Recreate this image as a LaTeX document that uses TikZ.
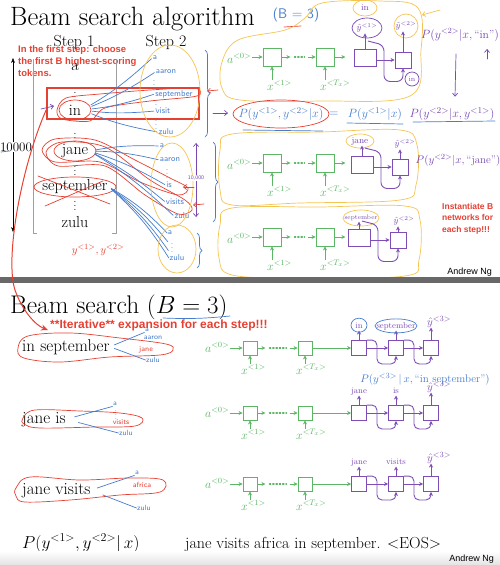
\documentclass[tikz,border=0pt]{standalone}
\usepackage{fontspec}
\newfontfamily\notefont{Liberation Sans}
\usetikzlibrary{calc,arrows.meta,decorations.pathreplacing}
\definecolor{penblue}{RGB}{70,125,205}
\definecolor{penred}{RGB}{230,64,50}
\definecolor{penorange}{RGB}{244,196,82}
\definecolor{penpurple}{RGB}{120,72,180}
\definecolor{rnngreen}{RGB}{92,182,102}
\definecolor{rnnpurple}{RGB}{126,78,182}
\definecolor{slidebar}{RGB}{104,104,104}

\begin{document}
\begin{tikzpicture}[x=1pt, y=-1pt,
  slidetitle/.style={font=\fontsize{26.5}{30}\selectfont, anchor=base west, inner sep=0pt},
  word/.style={font=\fontsize{16}{18}\selectfont, inner sep=1pt},
  vdot/.style={font=\fontsize{10}{10}\selectfont, inner sep=0pt},
  note/.style={font=\notefont\bfseries\fontsize{9.5}{12}\selectfont, text=penred, align=left, inner sep=0pt},
  hand/.style={font=\sffamily\fontsize{8.5}{9}\selectfont, inner sep=0.5pt},
  hlabel/.style={font=\fontsize{9}{10}\selectfont, text=penpurple, inner sep=0.5pt},
  glabel/.style={font=\fontsize{12}{14}\selectfont, text=rnngreen, inner sep=0pt, anchor=base west},
  plabel/.style={font=\fontsize{8.5}{10}\selectfont, text=rnnpurple, inner sep=0pt, anchor=base},
  gbox/.style={draw=rnngreen, line width=0.9pt, minimum size=#1, inner sep=0pt},
  pbox/.style={draw=rnnpurple, line width=0.9pt, minimum size=#1, inner sep=0pt},
  garrow/.style={rnngreen, line width=0.9pt, -{Stealth[length=4pt,width=4pt]}},
  parrow/.style={rnnpurple, line width=0.9pt, -{Stealth[length=4pt,width=4pt]}},
  pen/.style={line width=0.7pt, line cap=round, line join=round},
  penarrow/.style={pen, -{Straight Barb[length=3pt,width=5pt]}},
  handbrace/.style={pen, decorate, decoration={brace, amplitude=5pt}},
]
\useasboundingbox (0,0) rectangle (500,565);

\node[slidetitle] (title1) at (10,25) {Beam search algorithm};
\node[hand, text=penblue, font=\sffamily\fontsize{14}{16}\selectfont] (bnote) at (296,15) {(B = 3)};
\draw[pen, penred] (284,27) -- (301,26);

\node[word] (step1) at (74,42) {Step 1};
\node[word] (step2) at (166,42) {Step 2};
\node[note, anchor=north west] (firstnote) at (18,45) {In the first step: choose\\the first B highest-scoring\\tokens.};

\draw[gray!75, line width=0.8pt] (37,233) -| (33,59);
\draw[gray!75, line width=0.8pt] (112,233) -| (116,59);
\foreach \n/\ty/\t in {wa/67/a, win/110/in, wjane/151/jane, wsep/187/september, wzulu/222/zulu}
  \node[word] (\n) at (75,\ty) {\t};
\foreach \ty in {90,135,168,203}
  \node[vdot] (vd\ty) at (75,\ty) {$\vdots$};

\draw[{Stealth[length=5pt]}-{Stealth[length=5pt]}] (13,58) -- (13,232);
\node[font=\fontsize{13}{14}\selectfont, fill=white, inner sep=0.5pt] (vocab) at (16,147) {10000};
\draw[pen, penblue] (1,152) -- (9,151);

\node[draw=penred, line width=1.3pt, minimum width=152pt, minimum height=31pt, inner sep=0pt] (inbox) at (123,103.5) {};
\draw[pen, penred] (win.center) ellipse [x radius=16pt, y radius=10pt];
\draw[pen, penred] (wjane.center) ellipse [x radius=21pt, y radius=10pt];
\draw[pen, penred] (wsep.center) ellipse [x radius=41pt, y radius=10pt];
\draw[pen, penred] (38,176) -- (110,204);
\draw[pen, penred] (45,206) -- (103,181);
\draw[pen, penred] plot[smooth cycle] coordinates {(57,110) (66,98) (100,94) (150,90) (195,88) (197,96) (150,101) (105,108) (90,121) (62,119)};
\draw[pen, penred] plot[smooth cycle] coordinates {(42,150) (55,139) (95,140) (135,160) (170,178) (188,188) (178,195) (140,182) (100,162) (55,162)};
\draw[pen, penred] plot[smooth cycle] coordinates {(46,152) (62,142) (105,147) (150,180) (185,200) (192,210) (178,214) (145,195) (105,166) (58,166)};
\draw[penarrow, penpurple] (41,109) -- (54,106);
\node[text=penred, font=\fontsize{11}{12}\selectfont] (ypair) at (98,250) {$y^{<1>}, y^{<2>}$};

\foreach \n/\px/\py/\t in {sa/155/58/a, sb/166/72/aaron, sc/174/94/september, sd/163/111/visit, se/166/132/zulu,
  ja/162/146/a, jb/170/160/aaron, jc/169/185/is, jd/175/202/visits, je/182/216/zulu,
  ka/170/233/a, ke/177/258/zulu}
  \node[hand, text=penblue] (\n) at (\px,\py) {\t};
\foreach \n/\px/\py in {sv1/154/82, sv2/156/102, sv3/156/122, jv1/167/171, kv1/172/245}
  \node[hand, text=penblue] (\n) at (\px,\py) {$\vdots$};
\foreach \n in {sa,sb,sc,sd,se}
  \draw[pen, penblue, shorten <=10pt, shorten >=1pt] (win.east) to[bend right=6] (\n.west);
\foreach \n in {ja,jb,jc,jd,je}
  \draw[pen, penblue, shorten <=6pt, shorten >=1pt] (wjane.east) to[bend left=6] (\n.west);
\foreach \f in {0,0.35,0.7,1}
  \draw[pen, penblue, shorten <=3pt] (wsep.east) to[bend left=8] ($(ka.west)!\f!(ke.west)$);

\draw[pen, penorange] (170,91) ellipse [x radius=30pt, y radius=46pt];
\draw[pen, penorange] (172,185) ellipse [x radius=21pt, y radius=42pt];
\draw[pen, penorange] (177,249) ellipse [x radius=19pt, y radius=24pt];
\draw[handbrace, penblue] (205,50) -- (205,137);
\draw[handbrace, penblue] (213,142) -- (213,222);
\draw[handbrace, penblue] (197,233) -- (197,268);
\draw[pen, penpurple, {Straight Barb[length=3pt,width=5pt]}-{Straight Barb[length=3pt,width=5pt]}] (196,143) -- (196,217);
\node[font=\sffamily\fontsize{5.5}{6}\selectfont, text=penpurple, fill=white, inner sep=0.3pt] (tenk) at (196,178) {10,000};
\draw[penarrow, penred] (218,90) -- (207,91);
\draw[penarrow, penred] (194,187) -- (183,187);
\draw[penarrow, penred] (204,204) -- (193,205);

\draw[pen, penorange] plot[smooth cycle, tension=0.6] coordinates {(222,62) (238,40) (285,30) (305,18) (322,3) (380,1) (418,8) (421,50) (410,96) (320,101) (240,100) (222,88)};
\draw[pen, penorange] plot[smooth cycle, tension=0.6] coordinates {(220,150) (232,134) (320,132) (400,130) (417,145) (416,185) (400,200) (300,203) (232,205) (220,190)};
\draw[pen, penorange] plot[smooth cycle, tension=0.6] coordinates {(220,225) (232,208) (320,207) (405,206) (420,220) (419,260) (405,276) (300,278) (232,275) (219,258)};
\draw[penarrow, penorange] (440,10) -- (422,15);

\foreach \r/\Y in {1/57,2/163,3/237} {
  \node[glabel] (ta\r) at (227,\Y+6) {$a^{<0>}$};
  \node[gbox=18pt] (tga\r) at (272,\Y) {};
  \node[gbox=18pt] (tgb\r) at (325,\Y) {};
  \node[glabel] (txa\r) at (267,\Y+33) {$x^{<1>}$};
  \node[glabel] (txb\r) at (320,\Y+33) {$x^{<T_x>}$};
  \draw[garrow] (ta\r.east |- tga\r.west) -- (tga\r.west);
  \draw[garrow] (tga\r.south |- txa\r.north) -- (tga\r.south);
  \draw[garrow] (tgb\r.south |- txb\r.north) -- (tgb\r.south);
  \draw[garrow] (tga\r.east) -- ++(9,0);
  \draw[rnngreen, line width=1.3pt, dotted, line cap=round] ($(tga\r.east)+(13,0)$) -- ($(tgb\r.west)+(-11,0)$);
  \draw[garrow] ($(tgb\r.west)+(-8,0)$) -- (tgb\r.west);
  \draw[garrow] (tgb\r.east) -- ++(11,0);
}

\node[hlabel] (tin) at (365,8) {in};
\draw[pen, penorange] (tin.center) ellipse [x radius=12pt, y radius=8pt];
\node[hlabel] (tla1) at (367,28) {$\hat{y}^{<1>}$};
\draw[pen, penpurple] (tla1.center) ellipse [x radius=15pt, y radius=10pt];
\node[hlabel] (tlb1) at (406,26) {$\hat{y}^{<2>}$};
\draw[pen, penorange] (tlb1.center) circle [radius=12pt];
\node[hlabel] (tla2) at (360,141) {jane};
\draw[pen, penorange] (tla2.center) ellipse [x radius=14pt, y radius=7pt];
\node[hlabel] (tlb2) at (405,144) {$\hat{y}^{<2>}$};
\node[hlabel, font=\fontsize{6.5}{7}\selectfont] (tla3) at (361,218) {september};
\draw[pen, penorange] (tla3.center) ellipse [x radius=18pt, y radius=8pt];
\node[hlabel] (tlb3) at (404,221) {$\hat{y}^{<2>}$};
\node[hlabel, font=\fontsize{7}{8}\selectfont] (tinb) at (412,79) {in};
\draw[pen, penpurple] (tinb.center) circle [radius=7pt];

\foreach \r/\Y/\Pa/\Pb in {1/58/365/403, 2/165/362/400, 3/238/359/398} {
  \node[pbox=17pt, minimum width=22pt] (tpa\r) at (\Pa,\Y) {};
  \node[pbox=16pt] (tpb\r) at (\Pb,\Y+2) {};
  \draw[parrow] (tpa\r.east |- tpb\r.west) -- (tpb\r.west);
  \draw[parrow] (tpa\r.north) -- (tpa\r.north |- tla\r.south);
  \draw[parrow] (tpb\r.north) -- (tpb\r.north |- tlb\r.south);
  \draw[parrow, rounded corners=6pt] ($(tpa\r.north)+(3,-8)$) -- ++(16,4) |- ($(tpb\r.south)+(0,13)$) -- (tpb\r.south);
}

\node[hlabel, font=\fontsize{11.5}{13}\selectfont] (pin) at (460,35) {$P(y^{<2>}|x,\mbox{``in''})$};
\node[hlabel, font=\fontsize{11}{13}\selectfont] (pjane) at (458,160) {$P(y^{<2>}|x,\mbox{``jane''})$};
\node[hlabel, text=penblue, font=\fontsize{13}{15}\selectfont] (eqa) at (281,114) {$P(y^{<1>},y^{<2>}|x)$};
\node[hlabel, text=penblue, font=\fontsize{13}{15}\selectfont] (eqeq) at (334,114) {$=$};
\node[hlabel, text=penblue, font=\fontsize{13}{15}\selectfont] (eqb) at (375,114) {$P(y^{<1>}|x)$};
\node[hlabel, font=\fontsize{12.5}{15}\selectfont] (eqc) at (452,114) {$P(y^{<2>}|x,y^{<1>})$};
\draw[pen, penred] (eqa.center) ellipse [x radius=48pt, y radius=14pt];
\draw[pen, penblue] (243,130) -- (323,131);
\draw[pen, penblue] (347,123) -- (403,124);
\draw[pen, penblue] (413,122) -- (495,121);
\draw[penarrow, penpurple] (213,113) -- (228,113);
\draw[penarrow, penpurple] ($(pin.south)+(-4,12)$) -- ($(eqc.north)+(3,-10)$);
\draw[penarrow, penpurple] ($(pin.south)+(27,17)$) -- ++(0,-10);

\node[note, font=\notefont\bfseries\fontsize{8.5}{11.5}\selectfont, anchor=north west] (instnote) at (442,203) {Instantiate B\\networks for\\each step!!!};
\node[font=\notefont\fontsize{9}{10}\selectfont, anchor=base east, inner sep=0pt] (ng1) at (492,274) {Andrew Ng};

\fill[slidebar] (0,277) rectangle (500,283);

\node[slidetitle, font=\fontsize{25.5}{30}\selectfont] (title2) at (10,313) {Beam search $(B=3)$};
\draw[pen, penblue] (163,318) to[bend right=4] (230,316);
\node[note, font=\notefont\bfseries\fontsize{12}{14}\selectfont, anchor=base west] (iternote) at (50,328.5) {**Iterative** expansion for each step!!!};

\foreach \n/\Y/\t in {bin/351/in september, bjis/423/jane is, bjvi/494/jane visits}
  \node[word, font=\fontsize{17}{19}\selectfont, anchor=base west, inner sep=0pt] (\n) at (22,\Y) {\t};
\draw[pen, penred] plot[smooth cycle, tension=0.6] coordinates {(18,348) (28,336) (70,333) (120,338) (166,344) (173,350) (160,355) (110,357) (60,362) (24,358)};
\draw[pen, penred] plot[smooth cycle, tension=0.6] coordinates {(23,418) (35,410) (80,411) (120,413) (142,418) (135,426) (95,427) (40,428) (24,424)};
\draw[pen, penred] plot[smooth cycle, tension=0.6] coordinates {(16,488) (30,477) (80,480) (130,478) (163,480) (160,492) (120,495) (70,500) (25,502) (16,496)};

\foreach \n/\px/\py/\t/\c in {bia/147/330/a/penblue, bib/153/338/aaron/penblue, bic/146/350/jane/penred, bid/153/360/zulu/penblue,
  bja/115/404/a/penblue, bjb/121/422/visits/penred, bjc/126/433/zulu/penblue,
  bka/137/473/a/penblue, bkb/142/485/africa/penred, bkc/144/508/zulu/penblue}
  \node[hand, font=\sffamily\fontsize{7.5}{8}\selectfont, text=\c] (\n) at (\px,\py) {\t};
\node[hand, font=\sffamily\fontsize{7}{8}\selectfont, text=penblue] (bjv) at (116,412) {$\vdots$};
\draw[pen, penblue, shorten <=5pt] (bin.east) -- (bia.south west);
\draw[pen, penblue, shorten <=5pt] (bin.east) -- (bid.west);
\draw[pen, penblue, shorten <=9pt] (bjis.east) -- (bja.south west);
\draw[pen, penblue, shorten <=13pt] (bjis.east) -- (bjc.west);
\draw[pen, penblue, shorten <=7pt] (bjvi.east) -- (bka.south west);
\draw[pen, penblue, shorten <=13pt] (bjvi.east) -- (bkc.west);

\foreach \r/\Y/\wa/\wb in {1/348/in/september, 2/413/jane/is, 3/484/jane/visits} {
  \node[glabel] (ba\r) at (205,\Y+4) {$a^{<0>}$};
  \node[gbox=14pt] (bga\r) at (250,\Y) {};
  \node[gbox=14pt] (bgb\r) at (305,\Y) {};
  \node[glabel] (bxa\r) at (241,\Y+26) {$x^{<1>}$};
  \node[glabel] (bxb\r) at (296,\Y+26) {$x^{<T_x>}$};
  \node[pbox=15pt] (bpa\r) at (359,\Y) {};
  \node[pbox=15pt] (bpb\r) at (396,\Y) {};
  \node[pbox=15pt] (bpc\r) at (431,\Y) {};
  \node[plabel] (bla\r) at (359,\Y-20) {\wa};
  \node[plabel] (blb\r) at (396,\Y-20) {\wb};
  \node[plabel, font=\fontsize{11}{12}\selectfont] (blc\r) at (439,\Y-23) {$\hat{y}^{<3>}$};
  \draw[garrow] (ba\r.east |- bga\r.west) -- (bga\r.west);
  \draw[garrow] (bga\r.south |- bxa\r.north) -- (bga\r.south);
  \draw[garrow] (bgb\r.south |- bxb\r.north) -- (bgb\r.south);
  \draw[garrow] (bga\r.east) -- ++(8,0);
  \draw[rnngreen, line width=1.3pt, dotted, line cap=round] ($(bga\r.east)+(12,0)$) -- ($(bgb\r.west)+(-11,0)$);
  \draw[garrow] ($(bgb\r.west)+(-8,0)$) -- (bgb\r.west);
  \draw[garrow] (bgb\r.east) -- (bpa\r.west);
  \draw[parrow] (bpa\r.east) -- (bpb\r.west);
  \draw[parrow] (bpb\r.east) -- (bpc\r.west);
  \draw[parrow, shorten >=2.5pt] (bpa\r.north) -- (bpa\r.north |- bla\r.base);
  \draw[parrow, shorten >=2.5pt] (bpb\r.north) -- (bpb\r.north |- blb\r.base);
  \draw[parrow, shorten >=2.5pt] (bpc\r.north) -- (bpc\r.north |- blc\r.base);
  \draw[parrow, rounded corners=5pt] (bpa\r.north east) -- ++(10,0) |- ($(bpb\r.south)+(0,8)$) -- (bpb\r.south);
  \draw[parrow, rounded corners=5pt] (bpb\r.north east) -- ++(10,0) |- ($(bpc\r.south)+(0,8)$) -- (bpc\r.south);
}
\draw[pen, penblue] (bla1.center) ellipse [x radius=8pt, y radius=7pt];
\draw[pen, penblue] (blb1.center) ellipse [x radius=21pt, y radius=7pt];
\node[hlabel, text=penblue, font=\fontsize{11}{12}\selectfont] (pnext) at (425,379) {$P(y^{<3>}\,|\,x,\mbox{``in september''})$};

\node[font=\fontsize{17.5}{19}\selectfont, anchor=base west, inner sep=0pt] (pjoint) at (22,548) {$P(y^{<1>},y^{<2>}|\,x)$};
\node[font=\fontsize{16}{18}\selectfont, anchor=base west, inner sep=0pt] (finalsent) at (185,548) {jane visits africa in september. <EOS>};
\shade[top color=white, bottom color=gray!22] (0,551) rectangle (500,565);
\node[font=\notefont\fontsize{9}{10}\selectfont, anchor=base east, inner sep=0pt] (ng2) at (494,561) {Andrew Ng};

\draw[penred, line width=1pt, -{Stealth[length=7pt,width=6pt]}] ($(inbox.west)+(0,6)$) .. controls (20,170) and (5,260) .. (15,290) .. controls (22,310) and (35,325) .. ($(bin.north west)+(26,-9)$);
\end{tikzpicture}
\end{document}
